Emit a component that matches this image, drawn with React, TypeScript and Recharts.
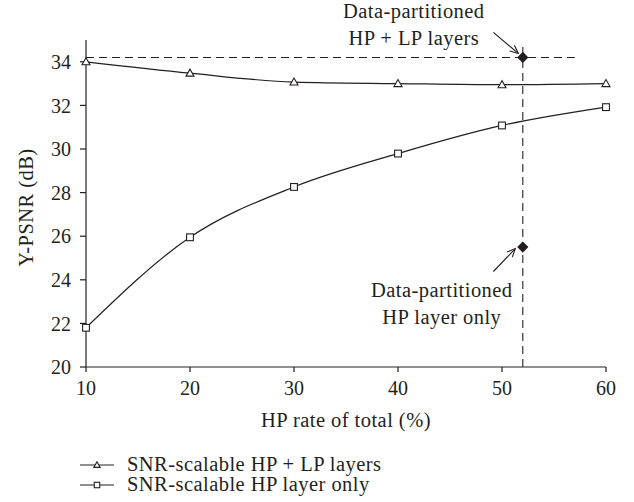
import React from 'react'
import {
  ComposedChart,
  Line,
  Scatter,
  XAxis,
  YAxis,
  ReferenceLine,
  ReferenceDot,
  Legend,
} from 'recharts'

// HP share of the total rate (%)
const hpRate = [10, 20, 30, 40, 50, 60]
// Y-PSNR (dB) for the SNR-scalable coder
const snrHpLp = [34.0, 33.48, 33.07, 33.0, 32.95, 33.0]
const snrHpOnly = [21.8, 25.95, 28.26, 29.79, 31.08, 31.92]

// data-partitioned operating point
const dpRate = 52
const dpHpLp = 34.2
const dpHpOnly = 25.5

const xTicks = [10, 20, 30, 40, 50, 60]
const yTicks = [20, 22, 24, 26, 28, 30, 32, 34]

const seriesNames = ['SNR-scalable HP + LP layers', 'SNR-scalable HP layer only']
const dpLabelHpLp = ['Data-partitioned', 'HP + LP layers']
const dpLabelHpOnly = ['Data-partitioned', 'HP layer only']

const rows = hpRate.map((x, i) => ({ x, hpLp: snrHpLp[i], hpOnly: snrHpOnly[i] }))
const dpPoints = [
  { x: dpRate, dp: dpHpLp },
  { x: dpRate, dp: dpHpOnly },
]

const INK = '#231f20'
const FONT = '"Liberation Serif", "Times New Roman", serif'
const FS = 20
// word labels get a touch more width than the tick digits
const wordStyle = { fontFamily: FONT, fontSize: 20.5, letterSpacing: 0.45, fill: INK }

function Triangle({ cx, cy, s = 1 }: any) {
  if (cx == null || cy == null) return null
  return (
    <polygon
      points={`${cx},${cy - 4 * s} ${cx - 4 * s},${cy + 3 * s} ${cx + 4 * s},${cy + 3 * s}`}
      fill="#fff"
      stroke={INK}
      strokeWidth={1.1}
    />
  )
}

function Square({ cx, cy, s = 1 }: any) {
  if (cx == null || cy == null) return null
  const h = 3.4 * s
  return <rect x={cx - h} y={cy - h} width={2 * h} height={2 * h} fill="#fff" stroke={INK} strokeWidth={1.1} />
}

function Diamond({ cx, cy }: any) {
  const h = 5.6
  return <polygon points={`${cx},${cy - h} ${cx + h},${cy} ${cx},${cy + h} ${cx - h},${cy}`} fill={INK} />
}

function Arrow({ x1, y1, x2, y2 }: { x1: number; y1: number; x2: number; y2: number }) {
  const a = Math.atan2(y2 - y1, x2 - x1)
  const len = 9
  const spread = 0.42
  const l = `${x2 - len * Math.cos(a - spread)},${y2 - len * Math.sin(a - spread)}`
  const r = `${x2 - len * Math.cos(a + spread)},${y2 - len * Math.sin(a + spread)}`
  return (
    <g stroke={INK} strokeWidth={1.1} fill="none">
      <line x1={x1} y1={y1} x2={x2} y2={y2} />
      <polyline points={`${l} ${x2},${y2} ${r}`} />
    </g>
  )
}

// callout text plus arrow, placed relative to the marked point
function Callout({ cx, cy, lines, tx, ty, arrow }: any) {
  return (
    <g>
      <Arrow x1={cx + arrow[0]} y1={cy + arrow[1]} x2={cx + arrow[2]} y2={cy + arrow[3]} />
      <text x={cx + tx} y={cy + ty} textAnchor="middle" {...wordStyle}>
        <tspan x={cx + tx}>{lines[0]}</tspan>
        <tspan x={cx + tx} dy={27}>{lines[1]}</tspan>
      </text>
    </g>
  )
}

function LegendBox() {
  return (
    <svg width={634} height={50}>
      {seriesNames.map((name, i) => {
        const y = 13 + i * 20
        return (
          <g key={name}>
            <line x1={80} x2={114} y1={y} y2={y} stroke={INK} strokeWidth={1.1} />
            {i === 0 ? <Triangle cx={97} cy={y} s={0.8} /> : <Square cx={97} cy={y} s={0.8} />}
            <text x={127} y={y + 6} {...wordStyle}>
              {name}
            </text>
          </g>
        )
      })}
    </svg>
  )
}

const tickStyle = { fontFamily: FONT, fontSize: FS, fill: INK }

export default function App() {
  return (
    <div style={{ position: 'absolute', left: 0, top: 0, width: 634, height: 502, background: '#fff' }}>
      <ComposedChart width={634} height={502} data={rows} margin={{ top: 40, right: 28, bottom: 0, left: 26 }}>
        <XAxis
          type="number"
          dataKey="x"
          domain={[10, 60]}
          ticks={xTicks}
          height={135}
          tick={tickStyle}
          tickSize={5}
          tickMargin={9}
          stroke={INK}
          strokeWidth={1.2}
          label={({ viewBox }: any) => (
            <text x={viewBox.x + viewBox.width / 2} y={viewBox.y + 60} textAnchor="middle" {...wordStyle}>
              HP rate of total (%)
            </text>
          )}
        />
        <YAxis
          type="number"
          domain={[20, 35]}
          ticks={yTicks}
          width={60}
          tick={tickStyle}
          tickSize={6}
          tickMargin={9}
          stroke={INK}
          strokeWidth={1.2}
          label={({ viewBox }: any) => {
            const x = 33
            const y = viewBox.y + viewBox.height / 2 + 4
            return (
              <text x={x} y={y} transform={`rotate(-90, ${x}, ${y})`} textAnchor="middle" {...wordStyle}>
                Y-PSNR (dB)
              </text>
            )
          }}
        />
        <ReferenceLine
          segment={[
            { x: 10, y: dpHpLp },
            { x: 57, y: dpHpLp },
          ]}
          stroke={INK}
          strokeWidth={1.1}
          strokeDasharray="8 5"
          ifOverflow="visible"
        />
        <ReferenceLine
          segment={[
            { x: dpRate, y: 20 },
            { x: dpRate, y: 34.9 },
          ]}
          stroke={INK}
          strokeWidth={1.1}
          strokeDasharray="8 5"
          ifOverflow="visible"
        />
        <Line
          type="monotone"
          dataKey="hpLp"
          name={seriesNames[0]}
          stroke={INK}
          strokeWidth={1.2}
          dot={(p: any) => <Triangle key={`t${p.index}`} cx={p.cx} cy={p.cy} />}
          activeDot={false}
          isAnimationActive={false}
        />
        <Line
          type="monotone"
          dataKey="hpOnly"
          name={seriesNames[1]}
          stroke={INK}
          strokeWidth={1.2}
          dot={(p: any) => <Square key={`s${p.index}`} cx={p.cx} cy={p.cy} />}
          activeDot={false}
          isAnimationActive={false}
        />
        <Scatter data={dpPoints} dataKey="dp" shape={(p: any) => <Diamond cx={p.cx} cy={p.cy} />} isAnimationActive={false} />
        <ReferenceDot
          x={dpRate}
          y={dpHpLp}
          r={0}
          ifOverflow="visible"
          shape={(p: any) => (
            <Callout cx={p.cx} cy={p.cy} lines={dpLabelHpLp} tx={-109} ty={-39} arrow={[-29.4, -25, -4.5, -4]} />
          )}
        />
        <ReferenceDot
          x={dpRate}
          y={dpHpOnly}
          r={0}
          ifOverflow="visible"
          shape={(p: any) => (
            <Callout cx={p.cx} cy={p.cy} lines={dpLabelHpOnly} tx={-81} ty={50} arrow={[-29.4, 24.4, -7.5, 1.5]} />
          )}
        />
        <Legend
          layout="horizontal"
          verticalAlign="middle"
          align="center"
          content={() => <LegendBox />}
          wrapperStyle={{ position: 'absolute', left: 0, top: 452, width: 634, height: 50 }}
        />
      </ComposedChart>
    </div>
  )
}
